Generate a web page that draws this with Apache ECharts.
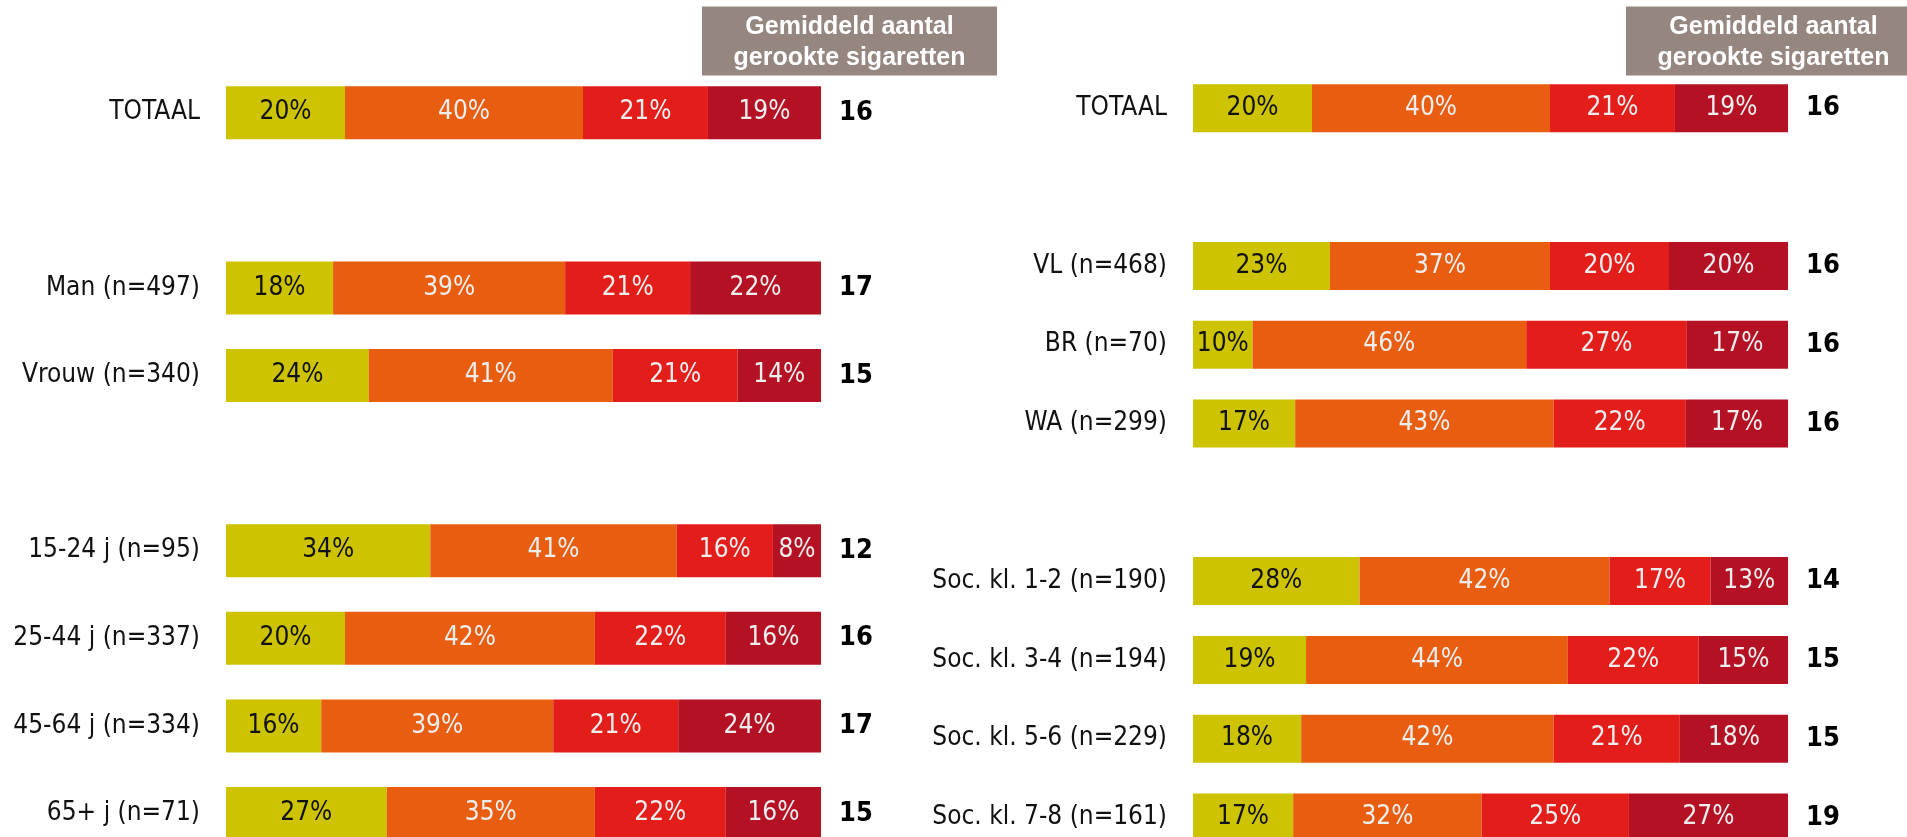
<!DOCTYPE html>
<html>
<head>
<meta charset="utf-8">
<script src="https://cdn.jsdelivr.net/npm/echarts@6/dist/echarts.min.js"></script>
<style>
html,body{margin:0;padding:0;background:#fff;}
#chart{width:1907px;height:837px;}
</style>
</head>
<body>
<div id="chart"></div>
<script>
// ---- Left panel (geslacht / leeftijd) ----
const leftCategories = ['TOTAAL', '', 'Man (n=497)', 'Vrouw (n=340)', '', '15-24 j (n=95)', '25-44 j (n=337)', '45-64 j (n=334)', '65+ j (n=71)'];
const leftSeg1 = [20, null, 18, 24, null, 34, 20, 16, 27];
const leftSeg2 = [40, null, 39, 41, null, 41, 42, 39, 35];
const leftSeg3 = [21, null, 21, 21, null, 16, 22, 21, 22];
const leftSeg4 = [19, null, 22, 14, null, 8, 16, 24, 16];
const leftAvg  = [16, null, 17, 15, null, 12, 16, 17, 15];

// ---- Right panel (regio / sociale klasse) ----
const rightCategories = ['TOTAAL', '', 'VL (n=468)', 'BR (n=70)', 'WA (n=299)', '', 'Soc. kl. 1-2 (n=190)', 'Soc. kl. 3-4 (n=194)', 'Soc. kl. 5-6 (n=229)', 'Soc. kl. 7-8 (n=161)'];
const rightSeg1 = [20, null, 23, 10, 17, null, 28, 19, 18, 17];
const rightSeg2 = [40, null, 37, 46, 43, null, 42, 44, 42, 32];
const rightSeg3 = [21, null, 20, 27, 22, null, 17, 22, 21, 25];
const rightSeg4 = [19, null, 20, 17, 17, null, 13, 15, 18, 27];
const rightAvg  = [16, null, 16, 16, 16, null, 14, 15, 15, 19];

const headerText = 'Gemiddeld aantal\ngerookte sigaretten';

const segColors = ['#CDC300', '#E95D10', '#E31E1A', '#B41124'];
const segLabelColors = ['#111111', '#EEEEEE', '#EEEEEE', '#EEEEEE'];
const FONT = '"DejaVu Sans Condensed", "DejaVu Sans", sans-serif';

function buildSeries(segs, gridIdx) {
  const n = segs[0].length;
  const sums = [];
  for (let i = 0; i < n; i++) {
    let s = 0;
    segs.forEach(a => { if (a[i] != null) s += a[i]; });
    sums.push(s);
  }
  return segs.map((arr, k) => ({
    type: 'bar',
    name: 'seg' + (k + 1),
    stack: 'g' + gridIdx,
    xAxisIndex: gridIdx,
    yAxisIndex: gridIdx * 2,
    barWidth: gridIdx === 0 ? 53 : 48,
    itemStyle: { color: segColors[k] },
    silent: true,
    label: {
      show: true,
      position: 'inside',
      color: segLabelColors[k],
      fontFamily: FONT,
      fontSize: 26,
      formatter: p => (p.data && p.data.raw != null) ? p.data.raw + '%' : ''
    },
    data: arr.map((v, i) => v == null ? '-' : { value: v / sums[i] * 100, raw: v })
  }));
}

const chart = echarts.init(document.getElementById('chart'), null, { renderer: 'canvas' });

function catAxis(cats, gridIdx) {
  return {
    type: 'category', gridIndex: gridIdx, inverse: true, position: 'left',
    data: cats,
    axisLine: { show: false }, axisTick: { show: false },
    axisLabel: { margin: 26, color: '#111', fontFamily: FONT, fontSize: 26 }
  };
}
function avgAxis(cats, avg, gridIdx) {
  return {
    type: 'category', gridIndex: gridIdx, inverse: true, position: 'right',
    data: cats.map((c, i) => 'r' + i),
    axisLine: { show: false }, axisTick: { show: false },
    axisLabel: {
      margin: 18, color: '#000', fontFamily: FONT, fontSize: 27, fontWeight: 'bold',
      formatter: (v, i) => avg[i] == null ? '' : String(avg[i])
    }
  };
}
function valAxis(gridIdx) {
  return { type: 'value', gridIndex: gridIdx, min: 0, max: 100, show: false };
}

function header(cx) {
  return {
    type: 'group',
    children: [
      { type: 'rect', shape: { x: cx - 147.5, y: 6.5, width: 295, height: 69 }, style: { fill: '#968680' } },
      { type: 'text', x: cx, y: 43, style: {
          text: headerText, fill: '#FFFFFF', align: 'center', verticalAlign: 'middle',
          font: 'bold 25px "Liberation Sans", Arial, sans-serif', lineHeight: 31 } }
    ]
  };
}

chart.setOption({
  animation: false,
  backgroundColor: '#FFFFFF',
  grid: [
    { left: 226, width: 595, top: 68.9, height: 788.4, outerBoundsMode: 'none', containLabel: false },
    { left: 1193, width: 595, top: 68.9, height: 788, outerBoundsMode: 'none', containLabel: false }
  ],
  xAxis: [valAxis(0), valAxis(1)],
  yAxis: [
    catAxis(leftCategories, 0), avgAxis(leftCategories, leftAvg, 0),
    catAxis(rightCategories, 1), avgAxis(rightCategories, rightAvg, 1)
  ],
  series: [].concat(
    buildSeries([leftSeg1, leftSeg2, leftSeg3, leftSeg4], 0),
    buildSeries([rightSeg1, rightSeg2, rightSeg3, rightSeg4], 1)
  ),
  graphic: [header(849.5), header(1773.5)]
});
</script>
</body>
</html>
